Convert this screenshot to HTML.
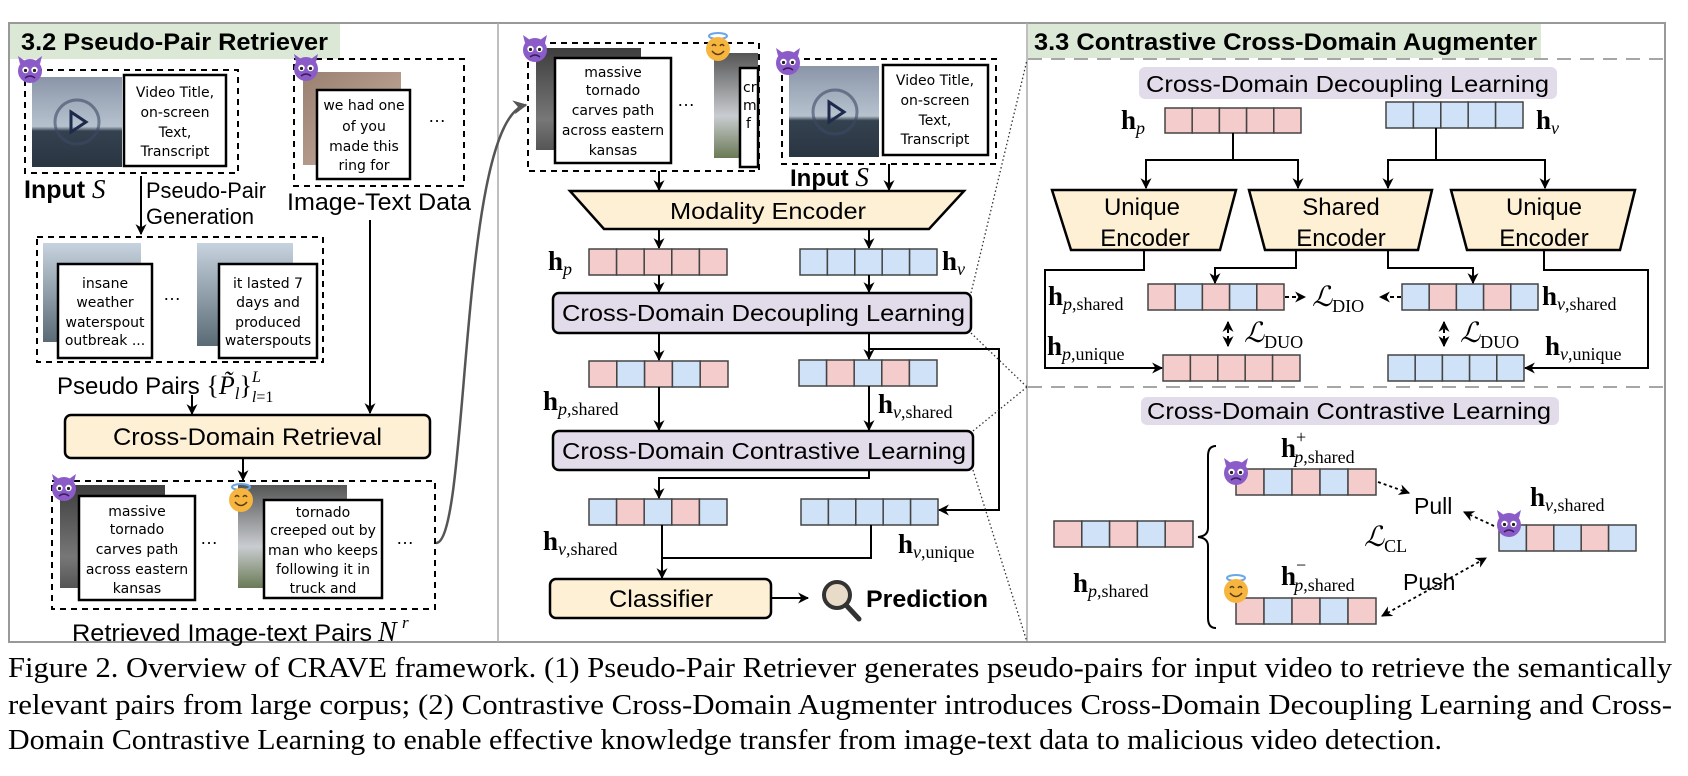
<!DOCTYPE html>
<html><head><meta charset="utf-8"><style>
html,body{margin:0;padding:0;background:#fff;}
svg{display:block;}
.s{font-family:"Liberation Sans",sans-serif;}
.h{font-family:"DejaVu Sans","Liberation Sans",sans-serif;font-size:14px;}
.m{font-family:"Liberation Serif",serif;}
.cap{font-family:"Liberation Serif",serif;font-size:28px;}
</style></head><body>
<svg width="1688" height="776" viewBox="0 0 1688 776" xmlns="http://www.w3.org/2000/svg">
<defs>
<marker id="a" viewBox="0 0 10 10" refX="9" refY="5" markerWidth="11" markerHeight="11" markerUnits="userSpaceOnUse" orient="auto"><path d="M0,0 L10,5 L0,10 L3,5 z" fill="#000"/></marker>
<marker id="g" viewBox="0 0 10 10" refX="9" refY="5" markerWidth="14" markerHeight="14" markerUnits="userSpaceOnUse" orient="auto"><path d="M0,0 L10,5 L0,10 L3,5 z" fill="#555"/></marker>
<marker id="as" viewBox="0 0 10 10" refX="1" refY="5" markerWidth="11" markerHeight="11" markerUnits="userSpaceOnUse" orient="auto"><path d="M10,0 L0,5 L10,10 L7,5 z" fill="#000"/></marker>
<linearGradient id="sky" x1="0" y1="0" x2="0" y2="1"><stop offset="0" stop-color="#8a96a8"/><stop offset="0.55" stop-color="#b7c2cf"/><stop offset="0.6" stop-color="#34414f"/><stop offset="1" stop-color="#2a3542"/></linearGradient>
<linearGradient id="dark" x1="0" y1="0" x2="0" y2="1"><stop offset="0" stop-color="#3e3e3e"/><stop offset="0.7" stop-color="#777"/><stop offset="1" stop-color="#555"/></linearGradient>
<linearGradient id="torn" x1="0" y1="0" x2="0" y2="1"><stop offset="0" stop-color="#555"/><stop offset="0.6" stop-color="#c9ccd0"/><stop offset="1" stop-color="#6a7a55"/></linearGradient>
<linearGradient id="ring" x1="0" y1="0" x2="1" y2="1"><stop offset="0" stop-color="#9a8070"/><stop offset="1" stop-color="#c8b0a0"/></linearGradient>
<linearGradient id="boat" x1="0" y1="0" x2="0" y2="1"><stop offset="0" stop-color="#c7d3de"/><stop offset="1" stop-color="#5a6b75"/></linearGradient>
<g id="dev"><circle cx="14" cy="15" r="12" fill="#8b5cc8"/><path d="M4,8 L2,0 L9,5 z M24,8 L26,0 L19,5 z" fill="#8b5cc8"/><circle cx="9.5" cy="14" r="3.2" fill="#fff"/><circle cx="18.5" cy="14" r="3.2" fill="#fff"/><circle cx="9.5" cy="14.5" r="1.6" fill="#222"/><circle cx="18.5" cy="14.5" r="1.6" fill="#222"/><path d="M9,22 Q14,18 19,22" stroke="#3a1d5e" stroke-width="1.5" fill="none"/></g>
<g id="ang"><ellipse cx="14" cy="4" rx="9" ry="3" fill="none" stroke="#6aa6e8" stroke-width="2"/><circle cx="14" cy="17" r="12" fill="#f6b53f"/><path d="M8,14 Q10,11 12,14 M16,14 Q18,11 20,14" stroke="#5a3a10" stroke-width="1.5" fill="none"/><path d="M8,19 Q14,26 20,19" stroke="#5a3a10" stroke-width="1.5" fill="none"/></g>
</defs>

<rect x="9" y="23" width="1656" height="619" fill="none" stroke="#999" stroke-width="2"/>
<line x1="498" y1="23" x2="498" y2="642" stroke="#aaa" stroke-width="1.5"/>
<line x1="1027" y1="23" x2="1027" y2="642" stroke="#aaa" stroke-width="1.5"/>

<!-- LEFT -->
<rect x="10" y="24" width="330" height="35" fill="#dbe8d5"/>
<text x="21" y="50" class="s" font-size="24" font-weight="bold" textLength="307" lengthAdjust="spacingAndGlyphs">3.2 Pseudo-Pair Retriever</text>

<rect x="25" y="70" width="213" height="103" fill="none" stroke="#000" stroke-width="2" stroke-dasharray="6,5"/>
<rect x="32" y="77" width="90" height="90" fill="url(#sky)"/>
<circle cx="77" cy="122" r="22" fill="none" stroke="#3c4a66" stroke-width="3" opacity="0.6"/>
<path d="M71,112 L86,122 L71,132 z" fill="none" stroke="#1d2a4a" stroke-width="3"/>
<rect x="124" y="75" width="102" height="91" fill="#fff" stroke="#000" stroke-width="2.5"/>
<text class="h" text-anchor="middle"><tspan x="175" y="97">Video Title,</tspan><tspan x="175" y="117">on-screen</tspan><tspan x="175" y="137">Text,</tspan><tspan x="175" y="156">Transcript</tspan></text>
<use href="#dev" x="16" y="56"/>
<text x="24" y="198" class="s" font-size="25" font-weight="bold">Input <tspan class="m" font-style="italic" font-weight="normal" font-size="27">S</tspan></text>
<line x1="141" y1="176" x2="141" y2="234" stroke="#000" stroke-width="2" marker-end="url(#a)"/>
<text x="146" y="198" class="s" font-size="22" textLength="120" lengthAdjust="spacingAndGlyphs">Pseudo-Pair</text>
<text x="146" y="224" class="s" font-size="22" textLength="108" lengthAdjust="spacingAndGlyphs">Generation</text>

<rect x="294" y="59" width="170" height="127" fill="none" stroke="#000" stroke-width="2" stroke-dasharray="6,5"/>
<rect x="303" y="72" width="98" height="93" fill="url(#ring)"/>
<rect x="317" y="90" width="93" height="89" fill="#fff" stroke="#000" stroke-width="2.5"/>
<text class="h" text-anchor="middle"><tspan x="364" y="110">we had one</tspan><tspan x="364" y="131">of you</tspan><tspan x="364" y="151">made this</tspan><tspan x="364" y="170">ring for</tspan></text>
<text x="428" y="122" class="s" font-size="18">…</text>
<use href="#dev" x="292" y="54"/>
<text x="287" y="210" class="s" font-size="24" textLength="184" lengthAdjust="spacingAndGlyphs">Image-Text Data</text>
<line x1="370" y1="220" x2="370" y2="413" stroke="#000" stroke-width="2" marker-end="url(#a)"/>

<rect x="37" y="237" width="286" height="125" fill="none" stroke="#000" stroke-width="2" stroke-dasharray="6,5"/>
<rect x="43" y="243" width="98" height="99" fill="url(#boat)"/>
<rect x="58" y="264" width="94" height="94" fill="#fff" stroke="#000" stroke-width="2.5"/>
<text class="h" text-anchor="middle"><tspan x="105" y="288">insane</tspan><tspan x="105" y="307">weather</tspan><tspan x="105" y="327">waterspout</tspan><tspan x="105" y="345">outbreak ...</tspan></text>
<text x="163" y="300" class="s" font-size="18">…</text>
<rect x="197" y="243" width="96" height="103" fill="url(#boat)"/>
<rect x="219" y="264" width="98" height="94" fill="#fff" stroke="#000" stroke-width="2.5"/>
<text class="h" text-anchor="middle"><tspan x="268" y="288">it lasted 7</tspan><tspan x="268" y="307">days and</tspan><tspan x="268" y="327">produced</tspan><tspan x="268" y="345">waterspouts</tspan></text>
<text x="57" y="394" class="s" font-size="24">Pseudo Pairs <tspan class="m" font-size="26">{</tspan><tspan class="m" font-style="italic" font-size="26">P̃</tspan><tspan class="m" font-style="italic" font-size="17" dy="5">l</tspan><tspan class="m" font-size="26" dy="-5">}</tspan><tspan class="m" font-style="italic" font-size="16" dy="-12">L</tspan><tspan class="m" font-style="italic" font-size="16" dx="-9" dy="20">l</tspan><tspan class="m" font-size="16">=1</tspan></text>
<line x1="192" y1="395" x2="192" y2="414" stroke="#000" stroke-width="2" marker-end="url(#a)"/>
<rect x="65" y="415" width="365" height="43" rx="6" fill="#fdf0d5" stroke="#000" stroke-width="2.5"/>
<text x="113" y="445" class="s" font-size="24" textLength="269" lengthAdjust="spacingAndGlyphs">Cross-Domain Retrieval</text>
<line x1="243" y1="458" x2="243" y2="480" stroke="#000" stroke-width="2" marker-end="url(#a)"/>

<rect x="52" y="481" width="383" height="128" fill="none" stroke="#000" stroke-width="2" stroke-dasharray="6,5"/>
<rect x="60" y="485" width="105" height="103" fill="url(#dark)"/>
<rect x="79" y="496" width="116" height="104" fill="#fff" stroke="#000" stroke-width="2.5"/>
<text class="h" text-anchor="middle"><tspan x="137" y="516">massive</tspan><tspan x="137" y="534">tornado</tspan><tspan x="137" y="554">carves path</tspan><tspan x="137" y="574">across eastern</tspan><tspan x="137" y="593">kansas</tspan></text>
<use href="#dev" x="50" y="474"/>
<text x="200" y="544" class="s" font-size="18">…</text>
<rect x="238" y="485" width="109" height="103" fill="url(#torn)"/>
<rect x="264" y="500" width="118" height="98" fill="#fff" stroke="#000" stroke-width="2.5"/>
<text class="h" text-anchor="middle"><tspan x="323" y="517">tornado</tspan><tspan x="323" y="535">creeped out by</tspan><tspan x="323" y="555">man who keeps</tspan><tspan x="323" y="574">following it in</tspan><tspan x="323" y="593">truck and</tspan></text>
<use href="#ang" x="227" y="483"/>
<text x="396" y="544" class="s" font-size="18">…</text>
<text x="72" y="641" class="s" font-size="24" textLength="300" lengthAdjust="spacingAndGlyphs">Retrieved Image-text Pairs</text>
<text x="378" y="641" class="m" font-style="italic" font-size="28">N</text><text x="402" y="628" class="m" font-style="italic" font-size="17">r</text>
<path d="M436,543 C470,543 458,118 526,105" fill="none" stroke="#555" stroke-width="2.5" marker-end="url(#g)"/>

<!-- MIDDLE -->
<rect x="528" y="43" width="231" height="128" fill="none" stroke="#000" stroke-width="2" stroke-dasharray="6,5"/>
<rect x="536" y="48" width="105" height="102" fill="url(#dark)"/>
<rect x="555" y="58" width="116" height="105" fill="#fff" stroke="#000" stroke-width="2.5"/>
<text class="h" text-anchor="middle"><tspan x="613" y="77">massive</tspan><tspan x="613" y="95">tornado</tspan><tspan x="613" y="115">carves path</tspan><tspan x="613" y="135">across eastern</tspan><tspan x="613" y="155">kansas</tspan></text>
<use href="#dev" x="521" y="35"/>
<text x="677" y="106" class="s" font-size="18">…</text>
<rect x="714" y="53" width="44" height="105" fill="url(#torn)"/>
<rect x="740" y="68" width="18" height="99" fill="#fff" stroke="#000" stroke-width="2.5"/>
<text class="h"><tspan x="743" y="92">cr</tspan><tspan x="743" y="110">m</tspan><tspan x="746" y="128">f</tspan></text>
<use href="#ang" x="704" y="32"/>

<rect x="782" y="59" width="214" height="105" fill="none" stroke="#000" stroke-width="2" stroke-dasharray="6,5"/>
<rect x="789" y="66" width="90" height="91" fill="url(#sky)"/>
<circle cx="835" cy="112" r="22" fill="none" stroke="#3c4a66" stroke-width="3" opacity="0.6"/>
<path d="M829,102 L844,112 L829,122 z" fill="none" stroke="#1d2a4a" stroke-width="3"/>
<rect x="883" y="65" width="105" height="90" fill="#fff" stroke="#000" stroke-width="2.5"/>
<text class="h" text-anchor="middle"><tspan x="935" y="85">Video Title,</tspan><tspan x="935" y="105">on-screen</tspan><tspan x="935" y="125">Text,</tspan><tspan x="935" y="144">Transcript</tspan></text>
<use href="#dev" x="774" y="48"/>
<text x="790" y="186" class="s" font-size="24" font-weight="bold">Input <tspan class="m" font-style="italic" font-weight="normal" font-size="27">S</tspan></text>
<line x1="659" y1="171" x2="659" y2="190" stroke="#000" stroke-width="2" marker-end="url(#a)"/>
<line x1="889" y1="164" x2="889" y2="190" stroke="#000" stroke-width="2" marker-end="url(#a)"/>
<path d="M570,191 L964,191 L929,229 L604,229 z" fill="#fdf0d5" stroke="#000" stroke-width="2.5"/>
<text x="670" y="219" class="s" font-size="23" textLength="196" lengthAdjust="spacingAndGlyphs">Modality Encoder</text>
<line x1="659" y1="229" x2="659" y2="248" stroke="#000" stroke-width="2" marker-end="url(#a)"/>
<line x1="869" y1="229" x2="869" y2="248" stroke="#000" stroke-width="2" marker-end="url(#a)"/>

<g stroke="#444" stroke-width="1.5">
<rect x="589" y="249" width="27.6" height="26" fill="#f4cccc"/><rect x="616.6" y="249" width="27.6" height="26" fill="#f4cccc"/><rect x="644.2" y="249" width="27.6" height="26" fill="#f4cccc"/><rect x="671.8" y="249" width="27.6" height="26" fill="#f4cccc"/><rect x="699.4" y="249" width="27.6" height="26" fill="#f4cccc"/>
<rect x="800" y="249" width="27.4" height="26" fill="#cfe2f8"/><rect x="827.4" y="249" width="27.4" height="26" fill="#cfe2f8"/><rect x="854.8" y="249" width="27.4" height="26" fill="#cfe2f8"/><rect x="882.2" y="249" width="27.4" height="26" fill="#cfe2f8"/><rect x="909.6" y="249" width="27.4" height="26" fill="#cfe2f8"/>
<rect x="589" y="361" width="27.8" height="26" fill="#f4cccc"/><rect x="616.8" y="361" width="27.8" height="26" fill="#cfe2f8"/><rect x="644.6" y="361" width="27.8" height="26" fill="#f4cccc"/><rect x="672.4" y="361" width="27.8" height="26" fill="#cfe2f8"/><rect x="700.2" y="361" width="27.8" height="26" fill="#f4cccc"/>
<rect x="799" y="360" width="27.6" height="26" fill="#cfe2f8"/><rect x="826.6" y="360" width="27.6" height="26" fill="#f4cccc"/><rect x="854.2" y="360" width="27.6" height="26" fill="#cfe2f8"/><rect x="881.8" y="360" width="27.6" height="26" fill="#f4cccc"/><rect x="909.4" y="360" width="27.6" height="26" fill="#cfe2f8"/>
<rect x="589" y="499" width="27.6" height="26" fill="#cfe2f8"/><rect x="616.6" y="499" width="27.6" height="26" fill="#f4cccc"/><rect x="644.2" y="499" width="27.6" height="26" fill="#cfe2f8"/><rect x="671.8" y="499" width="27.6" height="26" fill="#f4cccc"/><rect x="699.4" y="499" width="27.6" height="26" fill="#cfe2f8"/>
<rect x="801" y="499" width="27.4" height="26" fill="#cfe2f8"/><rect x="828.4" y="499" width="27.4" height="26" fill="#cfe2f8"/><rect x="855.8" y="499" width="27.4" height="26" fill="#cfe2f8"/><rect x="883.2" y="499" width="27.4" height="26" fill="#cfe2f8"/><rect x="910.6" y="499" width="27.4" height="26" fill="#cfe2f8"/>
</g>
<text x="548" y="270" class="m"><tspan font-weight="bold" font-size="27">h</tspan><tspan font-style="italic" font-size="18" dy="5">p</tspan></text>
<text x="942" y="270" class="m"><tspan font-weight="bold" font-size="27">h</tspan><tspan font-style="italic" font-size="18" dy="5">v</tspan></text>
<line x1="659" y1="275" x2="659" y2="292" stroke="#000" stroke-width="2" marker-end="url(#a)"/>
<line x1="869" y1="275" x2="869" y2="292" stroke="#000" stroke-width="2" marker-end="url(#a)"/>
<rect x="553" y="293" width="418" height="40" rx="6" fill="#e2dcea" stroke="#000" stroke-width="2.5"/>
<text x="562" y="321" class="s" font-size="23" textLength="403" lengthAdjust="spacingAndGlyphs">Cross-Domain Decoupling Learning</text>
<line x1="659" y1="333" x2="659" y2="360" stroke="#000" stroke-width="2" marker-end="url(#a)"/>
<line x1="869" y1="333" x2="869" y2="359" stroke="#000" stroke-width="2" marker-end="url(#a)"/>
<polyline points="869,349 999,349 999,510 939,510" fill="none" stroke="#000" stroke-width="2" marker-end="url(#a)"/>
<text x="543" y="410" class="m"><tspan font-weight="bold" font-size="27">h</tspan><tspan font-style="italic" font-size="18" dy="5">p</tspan><tspan font-size="18">,shared</tspan></text>
<text x="878" y="413" class="m"><tspan font-weight="bold" font-size="27">h</tspan><tspan font-style="italic" font-size="18" dy="5">v</tspan><tspan font-size="18">,shared</tspan></text>
<line x1="659" y1="387" x2="659" y2="430" stroke="#000" stroke-width="2" marker-end="url(#a)"/>
<line x1="869" y1="386" x2="869" y2="430" stroke="#000" stroke-width="2" marker-end="url(#a)"/>
<rect x="553" y="431" width="420" height="39" rx="6" fill="#e2dcea" stroke="#000" stroke-width="2.5"/>
<text x="562" y="459" class="s" font-size="23" textLength="404" lengthAdjust="spacingAndGlyphs">Cross-Domain Contrastive Learning</text>
<polyline points="869,470 869,478 659,478 659,498" fill="none" stroke="#000" stroke-width="2" marker-end="url(#a)"/>
<text x="543" y="550" class="m"><tspan font-weight="bold" font-size="27">h</tspan><tspan font-style="italic" font-size="18" dy="5">v</tspan><tspan font-size="18">,shared</tspan></text>
<text x="898" y="553" class="m"><tspan font-weight="bold" font-size="27">h</tspan><tspan font-style="italic" font-size="18" dy="5">v</tspan><tspan font-size="18">,unique</tspan></text>
<line x1="662" y1="525" x2="662" y2="578" stroke="#000" stroke-width="2" marker-end="url(#a)"/>
<polyline points="871,525 871,558 662,558" fill="none" stroke="#000" stroke-width="2"/>
<rect x="550" y="579" width="221" height="39" rx="6" fill="#fdf0d5" stroke="#000" stroke-width="2.5"/>
<text x="609" y="607" class="s" font-size="24" textLength="104" lengthAdjust="spacingAndGlyphs">Classifier</text>
<line x1="771" y1="598" x2="808" y2="598" stroke="#000" stroke-width="2" marker-end="url(#a)"/>
<circle cx="837" cy="595" r="13" fill="#e8dcc8" stroke="#333" stroke-width="4"/>
<line x1="846" y1="605" x2="859" y2="619" stroke="#333" stroke-width="5" stroke-linecap="round"/>
<text x="866" y="607" class="s" font-size="24" font-weight="bold" textLength="122" lengthAdjust="spacingAndGlyphs">Prediction</text>

<g stroke="#333" stroke-width="1.3" stroke-dasharray="1.5,2.5" fill="none">
<line x1="971" y1="293" x2="1027" y2="60"/>
<line x1="971" y1="333" x2="1027" y2="387"/>
<line x1="973" y1="431" x2="1027" y2="387"/>
<line x1="973" y1="470" x2="1027" y2="642"/>
</g>

<!-- RIGHT -->
<rect x="1028" y="24" width="513" height="34" fill="#dbe8d5"/>
<text x="1034" y="50" class="s" font-size="24" font-weight="bold" textLength="503" lengthAdjust="spacingAndGlyphs">3.3 Contrastive Cross-Domain Augmenter</text>
<line x1="1028" y1="59" x2="1665" y2="59" stroke="#999" stroke-width="1.8" stroke-dasharray="14,9"/>
<rect x="1139" y="67" width="418" height="32" rx="6" fill="#e2dcea"/>
<text x="1146" y="92" class="s" font-size="23" textLength="403" lengthAdjust="spacingAndGlyphs">Cross-Domain Decoupling Learning</text>
<text x="1121" y="129" class="m"><tspan font-weight="bold" font-size="27">h</tspan><tspan font-style="italic" font-size="18" dy="5">p</tspan></text>
<text x="1536" y="129" class="m"><tspan font-weight="bold" font-size="27">h</tspan><tspan font-style="italic" font-size="18" dy="5">v</tspan></text>

<g stroke="#444" stroke-width="1.5">
<rect x="1165" y="108" width="27.2" height="25" fill="#f4cccc"/><rect x="1192.2" y="108" width="27.2" height="25" fill="#f4cccc"/><rect x="1219.4" y="108" width="27.2" height="25" fill="#f4cccc"/><rect x="1246.6" y="108" width="27.2" height="25" fill="#f4cccc"/><rect x="1273.8" y="108" width="27.2" height="25" fill="#f4cccc"/>
<rect x="1386" y="102" width="27.4" height="26" fill="#cfe2f8"/><rect x="1413.4" y="102" width="27.4" height="26" fill="#cfe2f8"/><rect x="1440.8" y="102" width="27.4" height="26" fill="#cfe2f8"/><rect x="1468.2" y="102" width="27.4" height="26" fill="#cfe2f8"/><rect x="1495.6" y="102" width="27.4" height="26" fill="#cfe2f8"/>
<rect x="1148" y="284" width="27.2" height="26" fill="#f4cccc"/><rect x="1175.2" y="284" width="27.2" height="26" fill="#cfe2f8"/><rect x="1202.4" y="284" width="27.2" height="26" fill="#f4cccc"/><rect x="1229.6" y="284" width="27.2" height="26" fill="#cfe2f8"/><rect x="1256.8" y="284" width="27.2" height="26" fill="#f4cccc"/>
<rect x="1402" y="284" width="27.2" height="26" fill="#cfe2f8"/><rect x="1429.2" y="284" width="27.2" height="26" fill="#f4cccc"/><rect x="1456.4" y="284" width="27.2" height="26" fill="#cfe2f8"/><rect x="1483.6" y="284" width="27.2" height="26" fill="#f4cccc"/><rect x="1510.8" y="284" width="27.2" height="26" fill="#cfe2f8"/>
<rect x="1163" y="355" width="27.4" height="26" fill="#f4cccc"/><rect x="1190.4" y="355" width="27.4" height="26" fill="#f4cccc"/><rect x="1217.8" y="355" width="27.4" height="26" fill="#f4cccc"/><rect x="1245.2" y="355" width="27.4" height="26" fill="#f4cccc"/><rect x="1272.6" y="355" width="27.4" height="26" fill="#f4cccc"/>
<rect x="1388" y="355" width="27.2" height="26" fill="#cfe2f8"/><rect x="1415.2" y="355" width="27.2" height="26" fill="#cfe2f8"/><rect x="1442.4" y="355" width="27.2" height="26" fill="#cfe2f8"/><rect x="1469.6" y="355" width="27.2" height="26" fill="#cfe2f8"/><rect x="1496.8" y="355" width="27.2" height="26" fill="#cfe2f8"/>
<rect x="1054" y="521" width="27.8" height="26" fill="#f4cccc"/><rect x="1081.8" y="521" width="27.8" height="26" fill="#cfe2f8"/><rect x="1109.6" y="521" width="27.8" height="26" fill="#f4cccc"/><rect x="1137.4" y="521" width="27.8" height="26" fill="#cfe2f8"/><rect x="1165.2" y="521" width="27.8" height="26" fill="#f4cccc"/>
<rect x="1236" y="469" width="28" height="26" fill="#f4cccc"/><rect x="1264" y="469" width="28" height="26" fill="#cfe2f8"/><rect x="1292" y="469" width="28" height="26" fill="#f4cccc"/><rect x="1320" y="469" width="28" height="26" fill="#cfe2f8"/><rect x="1348" y="469" width="28" height="26" fill="#f4cccc"/>
<rect x="1499" y="525" width="27.4" height="26" fill="#cfe2f8"/><rect x="1526.4" y="525" width="27.4" height="26" fill="#f4cccc"/><rect x="1553.8" y="525" width="27.4" height="26" fill="#cfe2f8"/><rect x="1581.2" y="525" width="27.4" height="26" fill="#f4cccc"/><rect x="1608.6" y="525" width="27.4" height="26" fill="#cfe2f8"/>
<rect x="1236" y="598" width="28" height="26" fill="#f4cccc"/><rect x="1264" y="598" width="28" height="26" fill="#cfe2f8"/><rect x="1292" y="598" width="28" height="26" fill="#f4cccc"/><rect x="1320" y="598" width="28" height="26" fill="#cfe2f8"/><rect x="1348" y="598" width="28" height="26" fill="#f4cccc"/>
</g>

<g fill="none" stroke="#000" stroke-width="2">
<line x1="1233" y1="133" x2="1233" y2="160"/>
<polyline points="1146,170 1146,160 1298,160 1298,170"/>
<line x1="1436" y1="128" x2="1436" y2="160"/>
<polyline points="1388,170 1388,160 1545,160 1545,170"/>
</g>
<g stroke="#000" stroke-width="2">
<line x1="1146" y1="168" x2="1146" y2="188" marker-end="url(#a)"/>
<line x1="1298" y1="168" x2="1298" y2="188" marker-end="url(#a)"/>
<line x1="1388" y1="168" x2="1388" y2="188" marker-end="url(#a)"/>
<line x1="1545" y1="168" x2="1545" y2="188" marker-end="url(#a)"/>
</g>
<path d="M1052,190 L1236,190 L1220,250 L1071,250 z" fill="#fdf0d5" stroke="#000" stroke-width="2.5"/>
<path d="M1249,190 L1432,190 L1418,250 L1265,250 z" fill="#fdf0d5" stroke="#000" stroke-width="2.5"/>
<path d="M1451,190 L1635,190 L1620,250 L1467,250 z" fill="#fdf0d5" stroke="#000" stroke-width="2.5"/>
<g class="s" font-size="24" text-anchor="middle">
<text x="1142" y="215">Unique</text><text x="1145" y="246">Encoder</text>
<text x="1341" y="215">Shared</text><text x="1341" y="246">Encoder</text>
<text x="1544" y="215">Unique</text><text x="1544" y="246">Encoder</text>
</g>
<g fill="none" stroke="#000" stroke-width="2">
<polyline points="1144,250 1144,270 1045,270 1045,368 1162,368" marker-end="url(#a)"/>
<polyline points="1296,250 1296,268 1215,268 1215,283" marker-end="url(#a)"/>
<polyline points="1388,250 1388,268 1473,268 1473,283" marker-end="url(#a)"/>
<polyline points="1544,250 1544,270 1648,270 1648,368 1525,368" marker-end="url(#a)"/>
</g>
<g stroke="#000" stroke-width="2" stroke-dasharray="4,3">
<line x1="1285" y1="297" x2="1305" y2="297" marker-end="url(#a)"/>
<line x1="1401" y1="297" x2="1380" y2="297" marker-end="url(#a)"/>
<line x1="1228" y1="322" x2="1228" y2="346" marker-start="url(#as)" marker-end="url(#a)"/>
<line x1="1444" y1="322" x2="1444" y2="346" marker-start="url(#as)" marker-end="url(#a)"/>
</g>
<text x="1048" y="305" class="m"><tspan font-weight="bold" font-size="27">h</tspan><tspan font-style="italic" font-size="18" dy="5">p</tspan><tspan font-size="18">,shared</tspan></text>
<text x="1542" y="305" class="m"><tspan font-weight="bold" font-size="27">h</tspan><tspan font-style="italic" font-size="18" dy="5">v</tspan><tspan font-size="18">,shared</tspan></text>
<text x="1047" y="355" class="m"><tspan font-weight="bold" font-size="27">h</tspan><tspan font-style="italic" font-size="18" dy="5">p</tspan><tspan font-size="18">,unique</tspan></text>
<text x="1545" y="355" class="m"><tspan font-weight="bold" font-size="27">h</tspan><tspan font-style="italic" font-size="18" dy="5">v</tspan><tspan font-size="18">,unique</tspan></text>
<text x="1312" y="306" class="m"><tspan font-style="italic" font-size="28">ℒ</tspan><tspan font-size="18" dy="6">DIO</tspan></text>
<text x="1244" y="342" class="m"><tspan font-style="italic" font-size="28">ℒ</tspan><tspan font-size="18" dy="6">DUO</tspan></text>
<text x="1460" y="342" class="m"><tspan font-style="italic" font-size="28">ℒ</tspan><tspan font-size="18" dy="6">DUO</tspan></text>

<line x1="1028" y1="387" x2="1665" y2="387" stroke="#999" stroke-width="1.8" stroke-dasharray="14,9"/>
<rect x="1141" y="397" width="418" height="28" rx="6" fill="#e2dcea"/>
<text x="1147" y="419" class="s" font-size="23" textLength="404" lengthAdjust="spacingAndGlyphs">Cross-Domain Contrastive Learning</text>

<path d="M1216,446 Q1208,446 1208,456 L1208,528 Q1208,536 1198,537 Q1208,538 1208,546 L1208,618 Q1208,628 1216,628" fill="none" stroke="#000" stroke-width="2"/>
<text x="1073" y="592" class="m"><tspan font-weight="bold" font-size="27">h</tspan><tspan font-style="italic" font-size="18" dy="5">p</tspan><tspan font-size="18">,shared</tspan></text>
<text x="1281" y="457" class="m"><tspan font-weight="bold" font-size="27">h</tspan><tspan font-size="18" dy="-14">+</tspan><tspan font-style="italic" font-size="18" dx="-12" dy="20">p</tspan><tspan font-size="18">,shared</tspan></text>
<text x="1281" y="585" class="m"><tspan font-weight="bold" font-size="27">h</tspan><tspan font-size="18" dy="-14">−</tspan><tspan font-style="italic" font-size="18" dx="-12" dy="20">p</tspan><tspan font-size="18">,shared</tspan></text>
<text x="1530" y="506" class="m"><tspan font-weight="bold" font-size="27">h</tspan><tspan font-style="italic" font-size="18" dy="5">v</tspan><tspan font-size="18">,shared</tspan></text>
<use href="#dev" x="1222" y="458"/>
<use href="#ang" x="1222" y="574"/>
<use href="#dev" x="1495" y="510"/>
<text x="1414" y="514" class="s" font-size="23">Pull</text>
<text x="1403" y="590" class="s" font-size="23">Push</text>
<text x="1364" y="546" class="m"><tspan font-style="italic" font-size="28">ℒ</tspan><tspan font-size="18" dy="6">CL</tspan></text>
<g stroke="#000" stroke-width="1.8" stroke-dasharray="3,3">
<line x1="1378" y1="482" x2="1409" y2="493" marker-end="url(#a)"/>
<line x1="1494" y1="526" x2="1464" y2="512" marker-end="url(#a)"/>
<line x1="1382" y1="616" x2="1486" y2="558" marker-start="url(#as)" marker-end="url(#a)"/>
</g>

<text x="8" y="677" class="cap" textLength="1664" lengthAdjust="spacingAndGlyphs">Figure 2. Overview of CRAVE framework. (1) Pseudo-Pair Retriever generates pseudo-pairs for input video to retrieve the semantically</text>
<text x="8" y="714" class="cap" textLength="1664" lengthAdjust="spacingAndGlyphs">relevant pairs from large corpus; (2) Contrastive Cross-Domain Augmenter introduces Cross-Domain Decoupling Learning and Cross-</text>
<text x="8" y="749" class="cap" textLength="1434" lengthAdjust="spacingAndGlyphs">Domain Contrastive Learning to enable effective knowledge transfer from image-text data to malicious video detection.</text>
</svg>
</body></html>
